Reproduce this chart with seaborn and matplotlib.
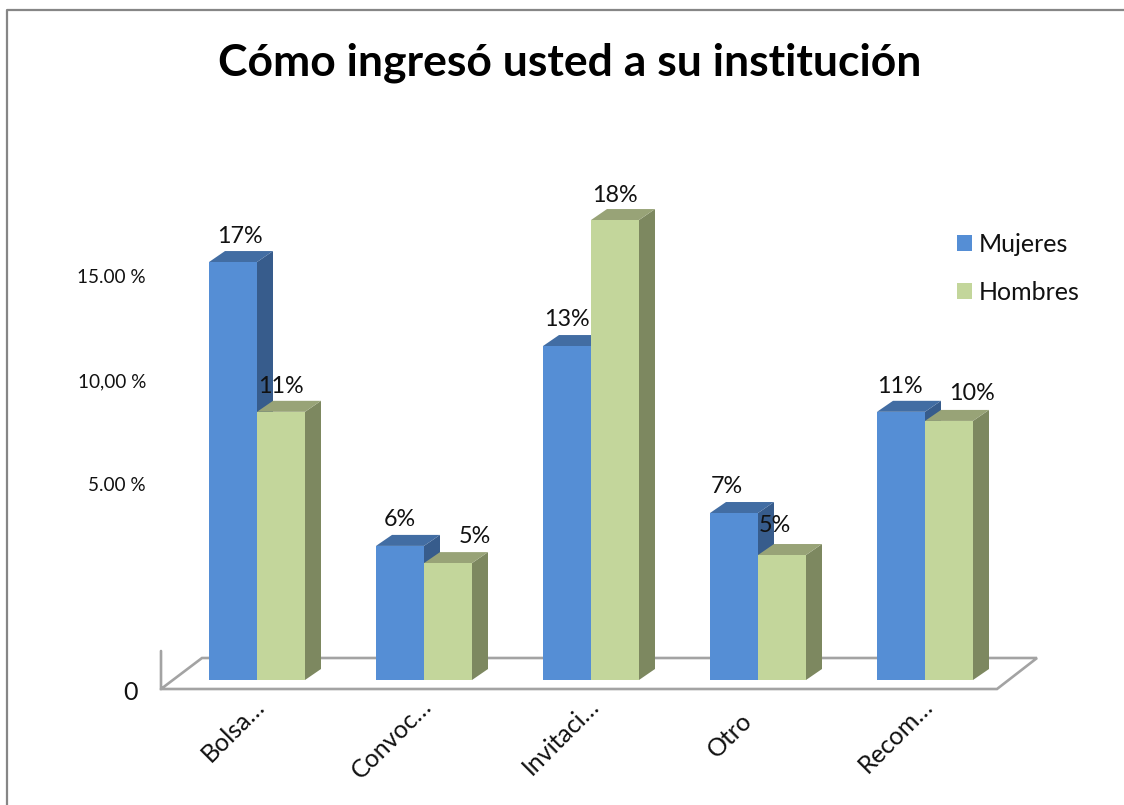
import matplotlib
matplotlib.use("Agg")
import matplotlib.pyplot as plt
from matplotlib.lines import Line2D
from matplotlib.patches import Polygon
from matplotlib.transforms import ScaledTranslation
import pandas as pd
import seaborn as sns

categories = ["Bolsa…", "Convoc…", "Invitaci…", "Otro", "Recom…"]
mujeres = [16.52, 5.30, 13.20, 6.60, 10.60]
hombres = [10.60, 4.62, 18.18, 4.94, 10.24]
mujeres_labels = ["17%", "6%", "13%", "7%", "11%"]
hombres_labels = ["11%", "5%", "18%", "5%", "10%"]
tick_values = [15.97, 11.86, 7.75]
tick_labels = ["15.00 %", "10,00 %", "5.00 %"]
title = "Cómo ingresó usted a su institución"

W, H = 1124, 805
BLUE, GREEN = "#558ED5", "#C3D69B"
BLUE_SIDE, BLUE_TOP = "#375C8C", "#426DA3"
GREEN_SIDE, GREEN_TOP = "#7D8860", "#98A377"
FLOOR = "#A3A3A3"
FRAME = "#868686"
PXX, PXY = 167.0, 25.3   # pixels per category / per percent
DX, DY = 16 / PXX, 11 / PXY
FONT = "Lato"

sns.set_theme(style="white")
plt.rcParams["font.family"] = [FONT, "DejaVu Sans"]
plt.rcParams["text.color"] = "#111111"

df = pd.DataFrame({
    "cat": categories * 2,
    "valor": mujeres + hombres,
    "sexo": ["Mujeres"] * 5 + ["Hombres"] * 5,
})

fig = plt.figure(figsize=(W / 100, H / 100), dpi=100, facecolor="white")
left, right, top, bottom = 161, 997, 100, 700
ax = fig.add_axes([left / W, 1 - bottom / H, (right - left) / W, (bottom - top) / H])
sns.barplot(data=df, x="cat", y="valor", hue="sexo", hue_order=["Mujeres", "Hombres"],
            palette=[BLUE, GREEN], width=96 / PXX, gap=0, dodge=True, saturation=1,
            errorbar=None, ax=ax, zorder=5, linewidth=0, edgecolor="none")
ax.set_xlabel("")
ax.set_ylabel("")
sns.despine(ax=ax, left=True, bottom=True, top=True, right=True)
ax.grid(False)
ax.patch.set_alpha(0)

# Axis labels
ax.set_yticks(tick_values, labels=tick_labels)
ax.set_yticks([-0.4], labels=["0"], minor=True)
ax.tick_params(axis="y", which="major", length=0, pad=10.8, labelsize=13.6, labelcolor="#111111")
ax.tick_params(axis="y", which="minor", length=0, pad=17, labelsize=18, labelcolor="#111111")
ax.tick_params(axis="x", length=0, pad=18, labelsize=18, labelcolor="#111111")
ax.set_xlim((left - 257) / PXX, (right - 257) / PXX)
ax.set_ylim((680 - bottom) / PXY, (680 - top) / PXY)
label_shifts = [(-4, 31), (-4, 31), (-4, 31), (-18, 16.5), (-4, 31)]
for t, (sx, sy) in zip(ax.get_xticklabels(), label_shifts):
    t.set_rotation(45)
    t.set_ha("right")
    t.set_va("top")
    t.set_rotation_mode("anchor")
    t.set_transform(t.get_transform() + ScaledTranslation(sx / 100, sy / 100, fig.dpi_scale_trans))

def px_x(p):
    return (p - 257) / PXX

def px_y(p):
    return (680 - p) / PXY

# Floor of the 3D plot, behind the bars
floor = [[(161, 651), (161, 689), (997, 689), (1037, 658), (202, 658), (161, 689)]]
for path in floor:
    ax.add_line(Line2D([px_x(p[0]) for p in path], [px_y(p[1]) for p in path],
                       color=FLOOR, lw=1.9, clip_on=False, zorder=1,
                       solid_joinstyle="miter"))

# Side and top faces derived from the bars drawn by seaborn
bars = [b for c in ax.containers for b in c]
n = len(categories)
styles = [(BLUE_SIDE, BLUE_TOP)] * n + [(GREEN_SIDE, GREEN_TOP)] * n
for i in range(n):
    for j in (i, i + n):
        b = bars[j]
        x0, x1, h = b.get_x(), b.get_x() + b.get_width(), b.get_height()
        side, topc = styles[j]
        z = 2 + 0.01 * j
        ax.add_patch(Polygon([(x1, 0), (x1 + DX, DY), (x1 + DX, h + DY), (x1, h)],
                             fc=side, ec="none", clip_on=False, zorder=z))
        ax.add_patch(Polygon([(x0, h), (x1, h), (x1 + DX, h + DY), (x0 + DX, h + DY)],
                             fc=topc, ec="none", clip_on=False, zorder=z))

# Data labels
offs_m = [(7, 27), (0, 27), (0, 28), (-7, 28), (-1, 26)]
offs_h = [(0, 26), (27, 28), (0, 26), (-7, 31), (23, 28)]
for j, (lab, off) in enumerate(zip(mujeres_labels + hombres_labels, offs_m + offs_h)):
    b = bars[j]
    ax.annotate(lab, (b.get_x() + b.get_width() / 2, b.get_height()),
                xytext=(off[0] * 0.72, (off[1] - 1) * 0.72), textcoords="offset points",
                ha="center", va="center", fontsize=16.8, color="#111111",
                annotation_clip=False, zorder=10)

# Legend
handles, labels = ax.get_legend_handles_labels()
ax.legend(handles, labels, loc="center left", bbox_to_anchor=(937 / W, 1 - 268.5 / H),
          bbox_transform=fig.transFigure, frameon=False, fontsize=18,
          handlelength=0.6, handleheight=0.6, handletextpad=0.28, labelspacing=1.0,
          borderpad=0.3, labelcolor="#111111")

fig.text(570 / W, 1 - 63 / H, title, ha="center", va="center", fontsize=32,
         fontweight="bold", color="#000000")

# Outer chart frame
fig.add_artist(Line2D([7 / W, 7 / W, 1], [0, 1 - 10 / H, 1 - 10 / H],
                      transform=fig.transFigure, color=FRAME, lw=1.6))

fig.savefig("out.png", dpi=100, facecolor="white")
